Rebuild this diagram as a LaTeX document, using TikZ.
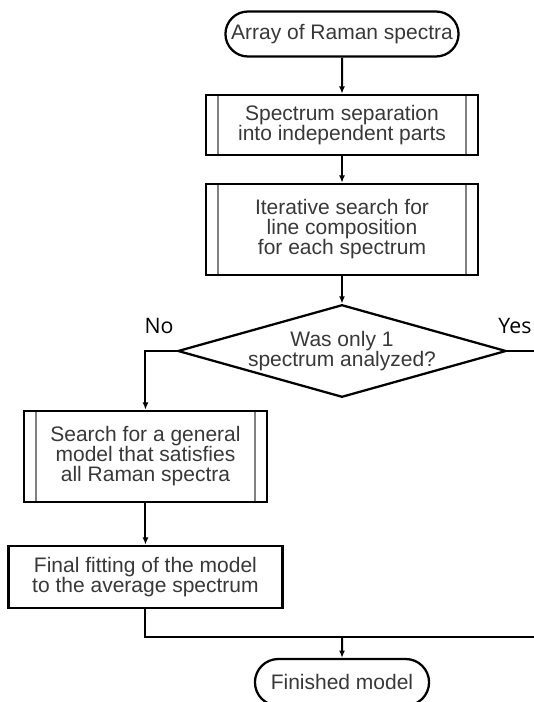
\documentclass[tikz,border=0pt]{standalone}
\usepackage{fontspec}
\setmainfont{Liberation Sans}
\newfontfamily\ynfont{Open Sans}
\usetikzlibrary{arrows.meta,shapes.geometric,shapes.misc}

\begin{document}
\begin{tikzpicture}[->,
            >={Latex[length=5.5pt,width=4.5pt]},
            x=0.75pt,
            y=-0.75pt,
            line width=1.5pt,
            every node/.style={font=\fontsize{15.75}{15}\selectfont, text=black!78, align=center},
            term/.style={draw, rounded rectangle, line width=1.7pt, minimum height=33.75pt},
            box/.style={draw, rectangle, line width=1.9pt, inner sep=0pt},
            sub/.style={box, path picture={
                \draw[-, black!50, line width=1.6pt]
                    ([xshift=9pt]path picture bounding box.north west) -- ([xshift=9pt]path picture bounding box.south west)
                    ([xshift=-9pt]path picture bounding box.north east) -- ([xshift=-9pt]path picture bounding box.south east);}},
            decision/.style={draw, diamond, aspect=3.55, inner sep=0pt, line width=1.7pt,
                             minimum width=245.25pt, minimum height=69pt},
            yn/.style={font=\ynfont\fontsize{16}{18}\selectfont, text=black, inner sep=0pt}]

        \useasboundingbox (0,0) rectangle (534,702);

        \node[term, minimum width=181.5pt]                       (1) at (342,34)                         {Array of Raman spectra};
        \node[sub, minimum width=204pt, minimum height=45pt]     (2) [below of=1, node distance=68.25pt] {Spectrum separation\\into independent parts};
        \node[sub, minimum width=204pt, minimum height=68.25pt]  (3) [below of=2, node distance=78.4pt]  {Iterative search for\\line composition\\for each spectrum};
        \node[decision]                                          (4) [below of=3, node distance=91.1pt]  {Was only 1\\spectrum analyzed?};
        \node[sub, minimum width=182.25pt, minimum height=68.25pt] (5) [below of=4, node distance=79.1pt, xshift=-147.4pt] {Search for a general\\model that satisfies\\all Raman spectra};
        \node[box, minimum width=205.5pt, minimum height=46.5pt] (6) [below of=5, node distance=90.4pt]  {Final fitting of the model\\to the average spectrum};
        \node[term, minimum width=137.25pt, minimum height=35pt] (7) [below of=4, node distance=248.5pt] {Finished model};

        \node[yn] (no)  at (159,326) {No};
        \node[yn] (yes) at (515,326) {Yes};

        \coordinate (r1) at (534,351);
        \coordinate (r2) at (534,637);
        \coordinate (j)  at (7.north |- r2);

        \path (1) edge (2)
              (2) edge (3)
              (3) edge (4)
              (5) edge (6)
              (j) edge (7);

        \draw (4.west) -| (5.north);
        \draw[-] (4.east) -- (r1);
        \draw[-] (6.south) |- (r2);

    \end{tikzpicture}
\end{document}
